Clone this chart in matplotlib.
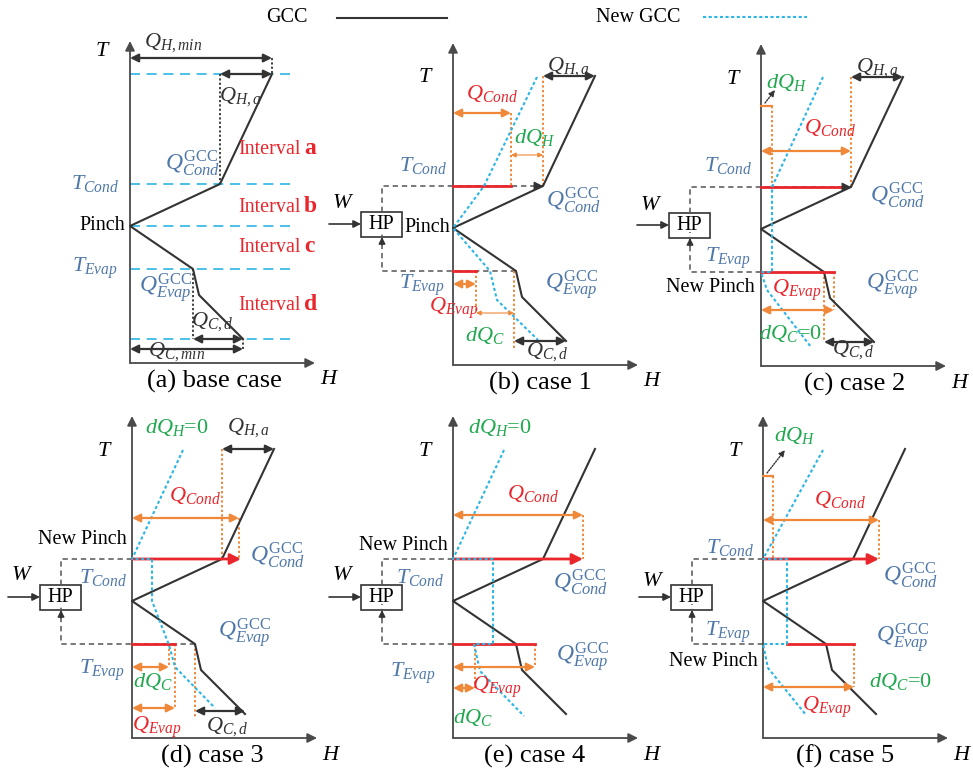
import matplotlib
matplotlib.use("Agg")
import matplotlib.pyplot as plt
from matplotlib.lines import Line2D
from matplotlib.patches import Rectangle

plt.rcParams["font.family"] = ["Liberation Serif", "DejaVu Serif"]
plt.rcParams["mathtext.fontset"] = "custom"
plt.rcParams["mathtext.rm"] = "Liberation Serif"
plt.rcParams["mathtext.it"] = "Liberation Serif:italic"
plt.rcParams["mathtext.bf"] = "Liberation Serif:bold"

INK = "#333333"
AXIS = "#4a4a4a"
CYAN = "#2cb5e5"
ORANGE = "#f0883a"
RED = "#e8262b"
GREEN = "#20a84e"
BLUE = "#4f78aa"

# temperature levels shared by every panel (T measured up from the H axis)
T_TOP, T_COND, T_PINCH, T_EVAP, T_KINK, T_BOT = 289, 179, 137, 94, 68, 24
# grand composite curve (H measured right from the T axis)
gcc_H = [142, 90, 0, 63, 69, 113]
gcc_T = [T_TOP, T_COND, T_PINCH, T_EVAP, T_KINK, T_BOT]
H_TOP, H_COND, H_EVAP, H_BOT = gcc_H[0], gcc_H[1], gcc_H[3], gcc_H[5]

# shifted curves once the heat pump is in place
new_gcc = {
    "b": ([84, 31, 0, 37, 44, 85], [288, 179, 137, 94, 65, 25]),
    "c": ([62, 11, 11, 0, 6, 50], [289, 179, 94, 94, 76, 19]),
    "d": ([51, 0, 20, 20, 37, 43, 83], [288, 179, 179, 137, 93, 71, 30]),
    "e": ([51, 0, 40, 40, 21, 27, 71], [288, 179, 179, 94, 94, 67, 22]),
    "f": ([60, 0, 24, 24, 0, 5, 43], [288, 179, 179, 94, 94, 70, 23]),
}

# condenser / evaporator duties per case (H extents)
q_cond = {"b": 58, "c": 90, "d": 107, "e": 130, "f": 116}
q_evap = {"b": 23, "c": 73, "d": 43, "e": 82, "f": 91}
dq_c = {"b": 61, "d": 37, "e": 22}

captions = ["(a) base case", "(b) case 1", "(c) case 2",
            "(d) case 3", "(e) case 4", "(f) case 5"]
intervals = ["a", "b", "c", "d"]

W_PX, H_PX = 973, 775
fig = plt.figure(figsize=(W_PX / 100, H_PX / 100), dpi=100)


def panel(ox, oy, caption, cap_x, t_lab_y=287):
    ax = fig.add_axes([(ox - 130) / W_PX, (H_PX - oy - 40) / H_PX,
                       330 / W_PX, 390 / H_PX])
    ax.set_xlim(-130, 200)
    ax.set_ylim(-40, 350)
    ax.axis("off")
    ax.patch.set_alpha(0)
    ap = dict(arrowstyle="-|>", color=AXIS, lw=1.3, mutation_scale=14,
              shrinkA=0, shrinkB=0)
    ax.annotate("", xy=(0, 322), xytext=(0, 0), arrowprops=ap)
    ax.annotate("", xy=(185, 0), xytext=(0, 0), arrowprops=ap)
    ax.text(-27, t_lab_y, "$T$", fontsize=16, ha="center", va="center")
    ax.text(200, -17, "$H$", fontsize=16, ha="center", va="center")
    ax.text(cap_x, -18, caption, fontsize=19, ha="center", va="center")
    return ax


def harrow(ax, x0, x1, y, color, lw=1.6, ms=12):
    ax.annotate("", xy=(x1, y), xytext=(x0, y),
                arrowprops=dict(arrowstyle="<|-|>", color=color, lw=lw,
                                mutation_scale=ms, shrinkA=0, shrinkB=0),
                zorder=5)


def vdot(ax, x, y0, y1, color=ORANGE, lw=1.4):
    ax.plot([x, x], [y0, y1], color=color, lw=lw, ls=(0, (1.2, 1.2)), zorder=2)


def lab(ax, x, y, s, color, size=16, ha="center"):
    ax.text(x, y, s, color=color, fontsize=size, ha=ha, va="center", zorder=6)


def gcc(ax):
    ax.plot(gcc_H, gcc_T, color=INK, lw=1.5, zorder=3)


def new_curve(ax, key):
    h, t = new_gcc[key]
    ax.plot(h, t, color=CYAN, lw=1.5, ls=(0, (1.5, 1.2)), zorder=4)


def heat_pump(ax, w_y=161, cond_end=0, evap_end=0, cond_head=False):
    ax.add_patch(Rectangle((-92, 128), 41, 25, fill=False, ec=INK, lw=1.2))
    ax.text(-71.5, 140.5, "HP", fontsize=14.5, ha="center", va="center")
    ax.annotate("", xy=(-92, 141), xytext=(-124, 141),
                arrowprops=dict(arrowstyle="-|>", color=INK, lw=1.2,
                                mutation_scale=11, shrinkA=0, shrinkB=0))
    ax.text(-110, w_y, "$W$", fontsize=16, ha="center", va="center")
    dash = dict(color="#555555", lw=1.1, ls=(0, (3.5, 2.5)), zorder=1)
    ax.plot([-71, -71, cond_end], [153, T_COND, T_COND], **dash)
    ax.plot([evap_end, -71, -71], [T_EVAP, T_EVAP, 134], **dash)
    ax.annotate("", xy=(-71, 128), xytext=(-71, 120),
                arrowprops=dict(arrowstyle="-|>", color=INK, lw=1.0,
                                mutation_scale=10, shrinkA=0, shrinkB=0))
    if cond_head:
        ax.annotate("", xy=(cond_end, T_COND), xytext=(cond_end - 8, T_COND),
                    arrowprops=dict(arrowstyle="-|>", color=INK, lw=1.0,
                                    mutation_scale=13, shrinkA=0, shrinkB=0),
                    zorder=5)


def red_line(ax, x0, x1, y):
    ax.plot([x0, x1], [y, y], color=RED, lw=2.0, zorder=3)


def red_arrow(ax, x1):
    ax.annotate("", xy=(x1, T_COND), xytext=(0, T_COND),
                arrowprops=dict(arrowstyle="-|>", color=RED, lw=2.0,
                                mutation_scale=16, shrinkA=0, shrinkB=0),
                zorder=3)


def side_labels(ax, tc, te, qc, qe):
    lab(ax, tc[0], tc[1], "$T_{Cond}$", BLUE, 16)
    lab(ax, te[0], te[1], "$T_{Evap}$", BLUE, 16)
    lab(ax, qc[0], qc[1], r"$Q^{\mathrm{GCC}}_{Cond}$", BLUE, 17)
    lab(ax, qe[0], qe[1], r"$Q^{\mathrm{GCC}}_{Evap}$", BLUE, 17)


# legend strip
fig.text(287 / W_PX, 1 - 18 / H_PX, "GCC", fontsize=14.5, ha="center", va="center")
fig.add_artist(Line2D([337 / W_PX, 447 / W_PX], [1 - 18 / H_PX] * 2,
                      color=INK, lw=1.5, transform=fig.transFigure))
fig.text(638 / W_PX, 1 - 18 / H_PX, "New GCC", fontsize=14.5, ha="center", va="center")
fig.add_artist(Line2D([703 / W_PX, 807 / W_PX], [1 - 17 / H_PX] * 2,
                      color=CYAN, lw=1.5, ls=(0, (1.5, 1.2)),
                      transform=fig.transFigure))

# (a) base case
ax = panel(130, 363, captions[0], 84, t_lab_y=311)
for t in [T_TOP, T_COND, T_PINCH, T_EVAP, T_BOT]:
    ax.plot([0, 162], [t, t], color=CYAN, lw=1.2, ls=(0, (6, 4)), zorder=1)
gcc(ax)
vdot(ax, H_COND, T_TOP, T_COND, INK, 1.3)
vdot(ax, H_EVAP, T_EVAP, T_BOT, INK, 1.3)
harrow(ax, 0, H_TOP, 305, INK)
vdot(ax, H_TOP, 305, T_TOP, INK, 1.3)
harrow(ax, H_COND, H_TOP, T_TOP, INK)
harrow(ax, H_EVAP, H_BOT, T_BOT, INK)
harrow(ax, 0, H_BOT, 14, INK)
vdot(ax, H_BOT, 14, T_BOT, INK, 1.3)
lab(ax, 43, 320, "$Q_{H,min}$", INK)
lab(ax, 110, 266, "$Q_{H,a}$", INK)
lab(ax, 82, 41, "$Q_{C,d}$", INK)
lab(ax, 47, 11, "$Q_{C,min}$", INK)
lab(ax, 62, 200, r"$Q^{\mathrm{GCC}}_{Cond}$", BLUE, 17)
lab(ax, 36, 75, r"$Q^{\mathrm{GCC}}_{Evap}$", BLUE, 17)
lab(ax, -35, T_COND + 1, "$T_{Cond}$", BLUE)
lab(ax, -35, T_EVAP + 1, "$T_{Evap}$", BLUE)
lab(ax, -5, T_PINCH + 1, "Pinch", "black", 14.5, ha="right")
for name, t in zip(intervals, [213, 155, 115, 58]):
    ax.text(171, t, "Interval", color=RED, fontsize=14.5, ha="right", va="center")
    ax.text(174, t + 1, name, color=RED, fontsize=17, fontweight="bold",
            ha="left", va="center")

# (b) case 1
ax = panel(453, 365, captions[1], 87)
gcc(ax)
new_curve(ax, "b")
heat_pump(ax, cond_end=H_COND, evap_end=H_EVAP, cond_head=True)
red_line(ax, 0, q_cond["b"], T_COND)
red_line(ax, 0, q_evap["b"], T_EVAP)
harrow(ax, 0, q_cond["b"], 252, ORANGE)
vdot(ax, q_cond["b"], 252, T_COND)
harrow(ax, q_cond["b"], H_COND, 210, ORANGE, lw=0.8, ms=7)
vdot(ax, H_COND, T_TOP, T_COND)
harrow(ax, H_COND, H_TOP, T_TOP, INK)
harrow(ax, 0, q_evap["b"], 81, ORANGE)
vdot(ax, q_evap["b"], T_EVAP, 52)
harrow(ax, q_evap["b"], dq_c["b"], 52, ORANGE, lw=0.8, ms=7)
vdot(ax, dq_c["b"], T_EVAP, 17)
harrow(ax, dq_c["b"], H_BOT, T_BOT, INK)
lab(ax, -3, T_PINCH, "Pinch", "black", 14.5, ha="right")
side_labels(ax, (-30, 200), (-31, 80), (120, 165), (119, 80))
lab(ax, 39, 272, "$Q_{Cond}$", RED)
lab(ax, 82, 228, "$dQ_H$", GREEN)
lab(ax, 115, 298, "$Q_{H,a}$", INK)
lab(ax, 1, 57, "$Q_{Evap}$", RED)
lab(ax, 32, 30, "$dQ_C$", GREEN)
lab(ax, 94, 13, "$Q_{C,d}$", INK)

# (c) case 2
ax = panel(761, 366, captions[2], 94)
gcc(ax)
new_curve(ax, "c")
heat_pump(ax, cond_end=H_COND, evap_end=0, cond_head=True)
red_line(ax, 0, H_COND - 7, T_COND)
red_line(ax, 0, q_evap["c"], T_EVAP)
ax.plot([0, 11], [260, 260], color=ORANGE, lw=1.6, zorder=3)
vdot(ax, 11, 260, T_COND)
ax.annotate("", xy=(14, 276), xytext=(4, 263),
            arrowprops=dict(arrowstyle="-|>", color=INK, lw=1.0,
                            ls=(0, (1, 1)), mutation_scale=9,
                            shrinkA=0, shrinkB=0))
harrow(ax, 0, q_cond["c"], 215, ORANGE)
vdot(ax, q_cond["c"], T_TOP, T_COND)
harrow(ax, H_COND, H_TOP, T_TOP, INK)
vdot(ax, q_evap["c"], T_EVAP, 56)
vdot(ax, H_EVAP, T_EVAP, T_BOT)
harrow(ax, 0, q_evap["c"], 56, ORANGE)
harrow(ax, H_EVAP, H_BOT, T_BOT, INK)
lab(ax, -6, 78, "New Pinch", "black", 14.5, ha="right")
side_labels(ax, (-33, 201), (-33, 108), (136, 171), (132, 81))
lab(ax, 26, 284, "$dQ_H$", GREEN)
lab(ax, 69, 239, "$Q_{Cond}$", RED)
lab(ax, 116, 298, "$Q_{H,a}$", INK)
lab(ax, 36, 76, "$Q_{Evap}$", RED)
lab(ax, 29, 33, "$dQ_C$=0", GREEN)
lab(ax, 92, 16, "$Q_{C,d}$", INK)

# (d) case 3
ax = panel(132, 738, captions[3], 80)
gcc(ax)
new_curve(ax, "d")
heat_pump(ax, w_y=163, cond_end=0, evap_end=H_EVAP)
red_arrow(ax, q_cond["d"] + 2)
red_line(ax, 0, q_evap["d"], T_EVAP)
harrow(ax, 0, q_cond["d"], 220, ORANGE)
vdot(ax, H_COND, T_TOP, T_COND)
vdot(ax, q_cond["d"], 220, T_COND)
harrow(ax, H_COND, H_TOP, T_TOP, INK)
harrow(ax, 0, dq_c["d"], 71, ORANGE)
vdot(ax, dq_c["d"], T_EVAP, 71)
harrow(ax, 0, q_evap["d"], 30, ORANGE)
vdot(ax, q_evap["d"], T_EVAP, 30)
vdot(ax, H_EVAP, T_EVAP, 20)
harrow(ax, H_EVAP, H_BOT, T_BOT + 3, INK)
lab(ax, -5, 198, "New Pinch", "black", 14.5, ha="right")
side_labels(ax, (-29, 161), (-30, 68), (145, 183), (113, 105))
lab(ax, 45, 311, "$dQ_H$=0", GREEN)
lab(ax, 116, 310, "$Q_{H,a}$", INK)
lab(ax, 63, 243, "$Q_{Cond}$", RED)
lab(ax, 21, 56, "$dQ_C$", GREEN)
lab(ax, 25, 11, "$Q_{Evap}$", RED)
lab(ax, 95, 11, "$Q_{C,d}$", INK)

# (e) case 4
ax = panel(453, 738, captions[4], 82)
gcc(ax)
new_curve(ax, "e")
heat_pump(ax, w_y=163, cond_end=0, evap_end=0)
red_arrow(ax, q_cond["e"])
red_line(ax, 0, q_evap["e"], T_EVAP)
harrow(ax, 0, q_cond["e"], 223, ORANGE)
vdot(ax, q_cond["e"], 223, T_COND)
harrow(ax, 0, q_evap["e"], 71, ORANGE)
vdot(ax, q_evap["e"], T_EVAP, 71)
harrow(ax, 0, dq_c["e"], 50, ORANGE)
vdot(ax, dq_c["e"], T_EVAP, 50)
lab(ax, -5, 193, "New Pinch", "black", 14.5, ha="right")
side_labels(ax, (-33, 161), (-40, 65), (127, 156), (130, 81))
lab(ax, 47, 310, "$dQ_H$=0", GREEN)
lab(ax, 80, 245, "$Q_{Cond}$", RED)
lab(ax, 44, 51, "$Q_{Evap}$", RED)
lab(ax, 20, 21, "$dQ_C$", GREEN)

# (f) case 5
ax = panel(763, 738, captions[5], 82)
gcc(ax)
new_curve(ax, "f")
heat_pump(ax, w_y=156, cond_end=0, evap_end=0)
red_arrow(ax, q_cond["f"])
red_line(ax, 24, q_evap["f"], T_EVAP)
ax.plot([0, 10], [262, 262], color=ORANGE, lw=1.6, zorder=3)
vdot(ax, 10, 262, T_COND)
ax.annotate("", xy=(22, 288), xytext=(4, 265),
            arrowprops=dict(arrowstyle="-|>", color=INK, lw=1.0,
                            ls=(0, (1, 1)), mutation_scale=9,
                            shrinkA=0, shrinkB=0))
harrow(ax, 0, q_cond["f"], 218, ORANGE)
vdot(ax, q_cond["f"], 218, T_COND)
harrow(ax, 0, q_evap["f"], 51, ORANGE)
vdot(ax, q_evap["f"], T_EVAP, 51)
lab(ax, -5, 76, "New Pinch", "black", 14.5, ha="right")
side_labels(ax, (-33, 190), (-35, 106), (147, 163), (140, 100))
lab(ax, 32, 303, "$dQ_H$", GREEN)
lab(ax, 77, 238, "$Q_{Cond}$", RED)
lab(ax, 64, 31, "$Q_{Evap}$", RED)
lab(ax, 137, 56, "$dQ_C$=0", GREEN)

fig.savefig("out.png", dpi=100, facecolor="white")
